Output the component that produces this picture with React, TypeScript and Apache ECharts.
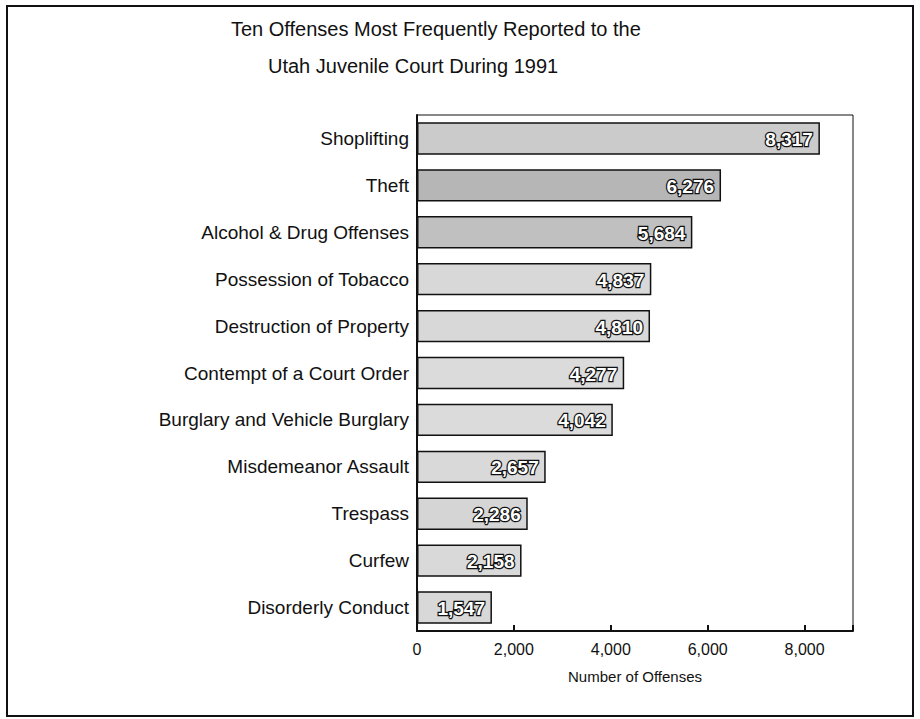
import React, { useEffect, useRef } from "react";
import * as echarts from "echarts";

const titleLines = [
  "Ten Offenses Most Frequently Reported to the",
  "Utah Juvenile Court During 1991",
];
const categories = [
  "Shoplifting",
  "Theft",
  "Alcohol & Drug Offenses",
  "Possession of Tobacco",
  "Destruction of Property",
  "Contempt of a Court Order",
  "Burglary and Vehicle Burglary",
  "Misdemeanor Assault",
  "Trespass",
  "Curfew",
  "Disorderly Conduct",
];
const offenses = [8317, 6276, 5684, 4837, 4810, 4277, 4042, 2657, 2286, 2158, 1547];
const barShades = [
  "#cbcbcb", "#b6b6b6", "#c0c0c0", "#d8d8d8", "#d8d8d8", "#dbdbdb",
  "#dbdbdb", "#d9d9d9", "#d5d5d5", "#d9d9d9", "#d8d8d8",
];
const axisName = "Number of Offenses";
const xMax = 9000;
const xInterval = 2000;

const FONT = "'Liberation Sans', Arial, Helvetica, sans-serif";

export default function App() {
  const ref = useRef<HTMLDivElement>(null);
  useEffect(() => {
    if (!ref.current) return;
    const chart = echarts.init(ref.current, undefined, { renderer: "svg" });
    chart.setOption({
      animation: false,
      backgroundColor: "#ffffff",
      textStyle: { fontFamily: FONT },
      title: [
        {
          text: titleLines[0],
          left: 231,
          top: 19,
          padding: 0,
          textStyle: { fontSize: 20, fontWeight: "normal", color: "#111", fontFamily: FONT },
        },
        {
          text: titleLines[1],
          left: 268,
          top: 56,
          padding: 0,
          textStyle: { fontSize: 20, fontWeight: "normal", color: "#111", fontFamily: FONT },
        },
      ],
      graphic: [
        {
          type: "rect",
          shape: { x: 7, y: 6, width: 906, height: 710 },
          style: { fill: "none", stroke: "#111", lineWidth: 2 },
          silent: true,
        },
      ],
      grid: {
        left: 417,
        right: 67,
        top: 115,
        bottom: 88,
        show: true,
        borderColor: "#111",
        borderWidth: 1,
        backgroundColor: "transparent",
      },
      xAxis: {
        type: "value",
        min: 0,
        max: xMax,
        interval: xInterval,
        name: axisName,
        nameLocation: "middle",
        nameGap: 38,
        nameTextStyle: { fontSize: 15, color: "#111", fontFamily: FONT },
        axisLine: { show: true, lineStyle: { color: "#111", width: 2 } },
        axisTick: { show: true, inside: true, length: 6, lineStyle: { color: "#111", width: 2 } },
        splitLine: { show: false },
        axisLabel: {
          fontSize: 16,
          color: "#111",
          margin: 10,
          fontFamily: FONT,
          formatter: (v: number) => (v === xMax ? "" : v.toLocaleString("en-US")),
        },
      },
      yAxis: {
        type: "category",
        data: categories,
        inverse: true,
        axisLine: { show: true, lineStyle: { color: "#111", width: 2 } },
        axisTick: { show: false },
        axisLabel: { fontSize: 19, color: "#111", margin: 8, fontFamily: FONT },
      },
      series: [
        {
          type: "bar",
          data: offenses.map((v, i) => ({
            value: v,
            itemStyle: { color: barShades[i] },
          })),
          barCategoryGap: "31%",
          itemStyle: { borderColor: "#111", borderWidth: 1.5 },
          label: {
            show: true,
            position: "insideRight",
            offset: [-2, 1],
            formatter: (p: any) => Number(p.value).toLocaleString("en-US"),
            fontSize: 19,
            fontWeight: "bold",
            color: "#ffffff",
            textBorderColor: "#111",
            textBorderWidth: 2.5,
            fontFamily: FONT,
          },
        },
      ],
    });
    return () => chart.dispose();
  }, []);
  return (
    <div
      ref={ref}
      style={{ position: "fixed", left: 0, top: 0, width: 920, height: 719 }}
    />
  );
}
